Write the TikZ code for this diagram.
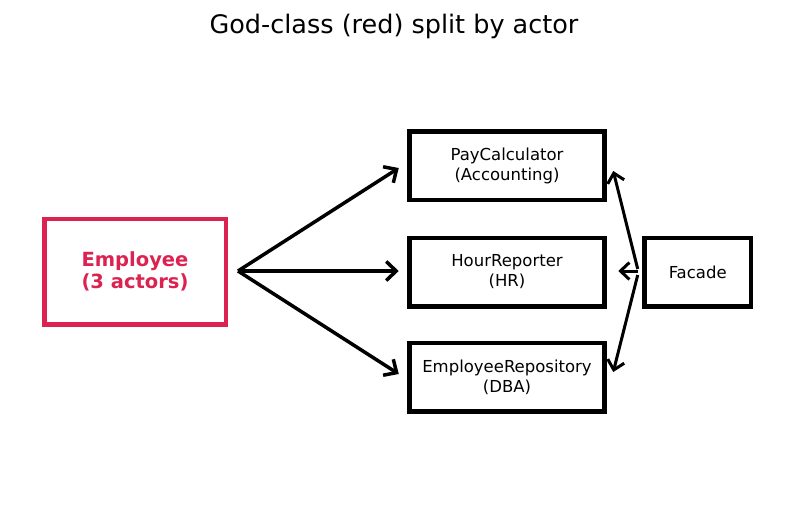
\documentclass[tikz,border=0pt]{standalone}
\usepackage{fontspec}
\setmainfont{DejaVu Sans}
\usetikzlibrary{arrows.meta}
\definecolor{godred}{RGB}{220,34,80}
\tikzset{
  box/.style={draw=black, line width=4.5pt, fill=white, align=center, inner sep=0pt, font=\fontsize{16.5}{20}\selectfont},
  godbox/.style={draw=godred, text=godred, line width=4.5pt, fill=white, align=center, inner sep=0pt, font=\fontsize{19.5}{22.5}\selectfont\bfseries},
  arr/.style={line width=3.5pt, -{Straight Barb[length=10pt,width=19pt,line width=3.5pt]}},
  farr/.style={line width=3pt, -{Straight Barb[length=9pt,width=17pt,line width=3pt]}}
}
\begin{document}
\begin{tikzpicture}[x=1pt,y=-1pt]
\useasboundingbox (0,0) rectangle (787,512);
\node[font=\fontsize{25.5}{30}\selectfont] (title) at (394,26) {God-class (red) split by actor};
\node[godbox, minimum width=181.5pt, minimum height=105.5pt] (emp) at (135,271.5) {Employee\\(3 actors)};
\node[box, minimum width=195pt, minimum height=68.5pt] (pay) at (507,165.5) {PayCalculator\\(Accounting)};
\node[box, minimum width=195pt, minimum height=68.5pt] (hour) at (507,272) {HourReporter\\(HR)};
\node[box, minimum width=195pt, minimum height=68.5pt] (repo) at (507,377) {EmployeeRepository\\(DBA)};
\node[box, minimum width=106.5pt, minimum height=68.5pt] (fac) at (697.7,272) {Facade};
\coordinate (es) at ([xshift=10pt,yshift=0.5pt]emp.east);
\draw[arr] (es) -- ([xshift=-8.5pt,yshift=-2.5pt]pay.west);
\draw[arr] (es) -- ([xshift=-8.5pt,yshift=1pt]hour.west);
\draw[arr] (es) -- ([xshift=-8.5pt,yshift=3pt]repo.west);
\draw[farr] ([xshift=-4.5pt,yshift=3pt]fac.west) -- ([xshift=6.5pt,yshift=-5.5pt]pay.east);
\draw[farr] ([xshift=-4.5pt,yshift=1pt]fac.west) -- ([xshift=11.5pt,yshift=1pt]hour.east);
\draw[farr] ([xshift=-4.5pt,yshift=-3pt]fac.west) -- ([xshift=6.5pt,yshift=5pt]repo.east);
\end{tikzpicture}
\end{document}
